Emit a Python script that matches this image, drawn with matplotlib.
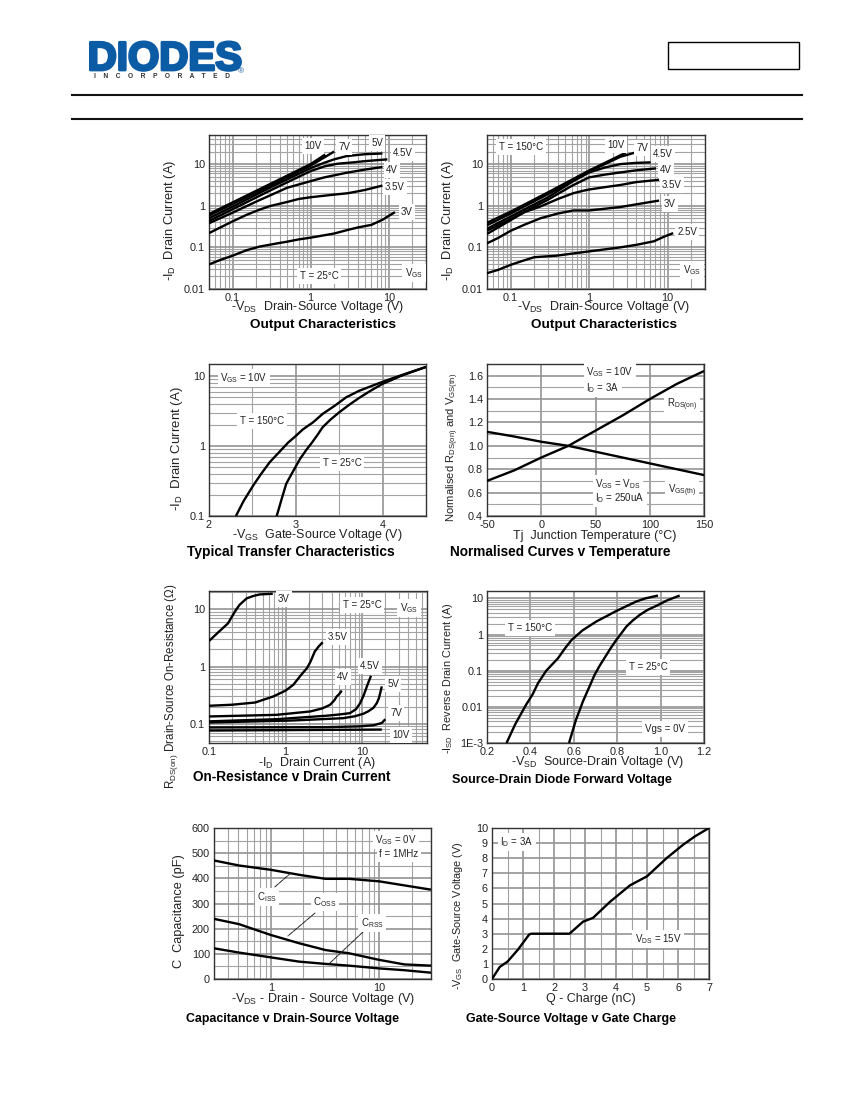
# -*- coding: utf-8 -*-
import matplotlib
matplotlib.use("Agg")
import matplotlib.pyplot as plt
from matplotlib.lines import Line2D
from matplotlib.patches import Rectangle
from matplotlib.ticker import FixedLocator, NullFormatter
import matplotlib.patheffects as pe

plt.rcParams['font.family'] = ['Liberation Sans', 'DejaVu Sans']
plt.rcParams['mathtext.fontset'] = 'custom'
plt.rcParams['mathtext.rm'] = 'Liberation Sans'
plt.rcParams['mathtext.default'] = 'regular'

W, H = 850, 1100
GRID = '#a3a3a3'
TXT = '#222222'

# output characteristics, T = 25C
o25_10v_x = [0.05, 0.1, 0.3, 1, 1.54]
o25_10v_y = [0.63, 1.2, 3.3, 10, 17]
o25_7v_x = [0.05, 0.1, 0.3, 1, 2]
o25_7v_y = [0.58, 1.1, 3.0, 9.2, 20]
o25_5v_x = [0.05, 0.1, 0.3, 1, 1.5, 2, 2.9, 5, 8.3]
o25_5v_y = [0.5, 0.95, 2.7, 8, 10.8, 13, 15.6, 17.3, 18]
o25_45v_x = [0.05, 0.1, 0.3, 1, 1.5, 2.2, 3.5, 5, 9.6]
o25_45v_y = [0.43, 0.82, 2.3, 6.8, 8.8, 10.2, 11, 11.8, 13]
o25_4v_x = [0.05, 0.1, 0.2, 0.5, 1, 1.5, 2.9, 5, 8.3]
o25_4v_y = [0.38, 0.68, 1.25, 2.7, 3.9, 4.8, 6.2, 7.4, 8.5]
o25_35v_x = [0.05, 0.1, 0.15, 0.22, 0.3, 0.5, 0.7, 1, 2, 3, 5, 8.3]
o25_35v_y = [0.22, 0.42, 0.6, 0.8, 0.98, 1.23, 1.45, 1.6, 1.85, 2, 2.4, 3.05]
o25_3v_x = [0.05, 0.07, 0.1, 0.15, 0.22, 0.35, 0.5, 0.7, 1, 2, 3, 4, 6, 8.3, 12]
o25_3v_y = [0.039, 0.05, 0.063, 0.085, 0.104, 0.122, 0.137, 0.155, 0.171, 0.215, 0.263, 0.3, 0.347, 0.46, 0.7]

# output characteristics, T = 150C
o150_10v_x = [0.05, 0.1, 0.3, 1, 2.93]
o150_10v_y = [0.39, 0.72, 2.1, 7, 18.8]
o150_7v_x = [0.05, 0.1, 0.3, 1, 2.5, 4.1]
o150_7v_y = [0.34, 0.65, 1.9, 6.6, 15, 19.5]
o150_45v_x = [0.05, 0.1, 0.3, 0.6, 1, 1.6, 2.5, 4, 6.1]
o150_45v_y = [0.28, 0.55, 1.6, 3.7, 6.3, 8.3, 10, 10.7, 11]
o150_4v_x = [0.05, 0.1, 0.3, 0.6, 1, 1.6, 2.5, 4, 7.1]
o150_4v_y = [0.25, 0.48, 1.4, 3, 4.8, 5.6, 6.3, 7.1, 7.9]
o150_35v_x = [0.05, 0.1, 0.15, 0.24, 0.4, 0.63, 0.85, 1, 1.6, 2.5, 4, 7.8]
o150_35v_y = [0.21, 0.45, 0.7, 0.96, 1.45, 2, 2.3, 2.45, 2.8, 3.15, 3.7, 4.2]
o150_3v_x = [0.05, 0.07, 0.1, 0.15, 0.24, 0.4, 0.63, 1, 2.5, 4, 7.8]
o150_3v_y = [0.125, 0.17, 0.25, 0.35, 0.5, 0.65, 0.77, 0.77, 0.93, 1.08, 1.33]
o150_25v_x = [0.05, 0.07, 0.1, 0.14, 0.2, 0.38, 1, 2.5, 4, 6.7, 9, 11.8]
o150_25v_y = [0.024, 0.029, 0.038, 0.047, 0.058, 0.063, 0.08, 0.1, 0.115, 0.14, 0.18, 0.22]

# transfer characteristics
tr150_x = [2.31, 2.4, 2.51, 2.6, 2.7, 2.8, 2.91, 3, 3.08, 3.2, 3.31, 3.45, 3.58, 3.73, 3.89, 4.05, 4.2, 4.35, 4.5]
tr150_y = [0.1, 0.165, 0.274, 0.4, 0.59, 0.8, 1.12, 1.4, 1.73, 2.2, 2.9, 3.8, 5, 6.2, 7.4, 8.8, 10.2, 11.8, 13.6]
tr25_x = [2.78, 2.84, 2.89, 2.97, 3.05, 3.12, 3.19, 3.25, 3.31, 3.4, 3.5, 3.62, 3.74, 3.87, 4, 4.1, 4.2, 4.35, 4.5]
tr25_y = [0.1, 0.18, 0.29, 0.44, 0.66, 0.88, 1.14, 1.45, 1.87, 2.4, 3.05, 3.95, 5, 6.3, 7.8, 8.8, 10, 11.7, 13.6]

# normalised curves
temp = [-50, -25, 0, 25, 50, 75, 100, 125, 150]
norm_rds = [0.70, 0.79, 0.90, 1.0, 1.13, 1.26, 1.40, 1.53, 1.64]
norm_vgs = [1.12, 1.08, 1.035, 1.0, 0.95, 0.90, 0.85, 0.80, 0.75]

# on-resistance
ron_3v_x = [0.1, 0.13, 0.177, 0.217, 0.25, 0.31, 0.38, 0.46, 0.68]
ron_3v_y = [2.8, 3.9, 5.7, 9.1, 12, 15.6, 17.2, 18.3, 18.8]
ron_35v_x = [0.1, 0.2, 0.4, 0.69, 1, 1.26, 1.6, 1.9, 2.1, 2.4, 2.7, 3.05]
ron_35v_y = [0.206, 0.215, 0.235, 0.3, 0.38, 0.48, 0.72, 0.94, 1.2, 1.83, 2.25, 2.67]
ron_4v_x = [0.1, 0.76, 2.1, 3, 3.8, 4.3, 4.65, 5, 5.4]
ron_4v_y = [0.134, 0.143, 0.164, 0.185, 0.214, 0.255, 0.3, 0.33, 0.38]
ron_45v_x = [0.1, 0.76, 3.4, 5, 6.9, 8.3, 9.4, 10.5, 11.5, 12.3, 13]
ron_45v_y = [0.11, 0.12, 0.138, 0.145, 0.153, 0.18, 0.23, 0.32, 0.45, 0.57, 0.69]
ron_5v_x = [0.1, 1.26, 5.6, 8, 10.4, 12, 14, 15.5, 16.5, 17.3, 18]
ron_5v_y = [0.105, 0.114, 0.125, 0.135, 0.15, 0.165, 0.19, 0.23, 0.28, 0.36, 0.45]
ron_7v_x = [0.1, 3.4, 9.4, 14, 18, 20]
ron_7v_y = [0.086, 0.087, 0.09, 0.094, 0.103, 0.12]
ron_10v_x = [0.1, 18]
ron_10v_y = [0.076, 0.079]

# diode forward voltage
sd150_x = [0.29, 0.33, 0.38, 0.41, 0.435, 0.473, 0.527, 0.56, 0.59, 0.64, 0.67, 0.704, 0.75, 0.79, 0.84, 0.888, 0.93, 0.988]
sd150_y = [0.001, 0.0033, 0.0114, 0.022, 0.045, 0.1, 0.22, 0.42, 0.71, 1.3, 1.7, 2.3, 3.2, 4.3, 6, 8.2, 10, 12]
sd25_x = [0.578, 0.61, 0.63, 0.642, 0.67, 0.696, 0.72, 0.75, 0.77, 0.796, 0.82, 0.842, 0.87, 0.904, 0.94, 0.98, 1.03, 1.088]
sd25_y = [0.001, 0.0044, 0.009, 0.0141, 0.034, 0.077, 0.14, 0.27, 0.42, 0.71, 1.1, 1.65, 2.4, 3.5, 4.8, 6.2, 8.8, 12]

# capacitance
cap_v = [0.3, 0.51, 1, 1.83, 3.2, 5.3, 10, 17, 30]
cap_iss = [471, 451, 434, 414, 398, 398, 388, 372, 355]
cap_oss = [239, 218, 175, 142, 115, 102, 76, 58, 53]
cap_rss = [122, 105, 86, 69, 60, 53, 42, 35, 25]

# gate charge
qg = [0, 0.25, 0.5, 0.84, 1.2, 1.27, 2.5, 2.94, 3.26, 3.8, 4.45, 4.77, 5, 5.63, 6.17, 6.55, 7]
vgs = [0, 0.8, 1.15, 1.95, 2.95, 3, 3, 3.8, 4.05, 5.1, 6.2, 6.55, 6.8, 8, 8.9, 9.45, 10]

LOG_SUBS = [2, 3, 4, 5, 6, 7, 8, 9]


def px(x, y):
    return x / W, 1 - y / H


def make_axes(fig, left, top, right, bottom):
    ax = fig.add_axes([left / W, 1 - bottom / H, (right - left) / W, (bottom - top) / H])
    for s in ax.spines.values():
        s.set_color('#333333')
        s.set_linewidth(1.0)
    ax.tick_params(which='both', length=0, labelsize=7.8, pad=3, labelcolor=TXT)
    ax.set_axisbelow(True)
    return ax


def log_minor(axis, decades):
    vals = [m * 10.0 ** d for d in decades for m in LOG_SUBS]
    axis.set_minor_locator(FixedLocator(vals))
    axis.set_minor_formatter(NullFormatter())


def grid(ax):
    ax.grid(True, which='major', color='#949494', linewidth=1.2)
    ax.grid(True, which='minor', color=GRID, linewidth=0.8)


def text(fig, x, y, s, size=7.5, weight='normal', rot=0, box=False):
    kw = {}
    if box:
        kw['bbox'] = dict(facecolor='white', edgecolor='none', pad=1.8)
    fig.text(*px(x, y), s, fontsize=size, fontweight=weight, rotation=rot,
             ha='center', va='center', color=TXT if weight == 'normal' else 'black', **kw)


def curves(ax, pairs):
    for x, y in pairs:
        ax.plot(x, y, color='black', linewidth=1.7, solid_capstyle='butt', zorder=3)


fig = plt.figure(figsize=(8.5, 11), dpi=100, facecolor='white')

# page header
fig.add_artist(Line2D([72 / W, 802 / W], [1 - 95 / H] * 2, color='#111111', linewidth=1.5))
fig.add_artist(Line2D([72 / W, 802 / W], [1 - 119 / H] * 2, color='#111111', linewidth=1.5))
fig.add_artist(Rectangle((668 / W, 1 - 69 / H), 131 / W, 27 / H, transform=fig.transFigure,
                         facecolor='white', edgecolor='black', linewidth=1.0))
logo = fig.text(*px(165, 59), 'DIODES', fontsize=29, fontweight='bold', color='#0b5ca5',
                ha='center', va='center')
logo.set_path_effects([pe.withStroke(linewidth=2.0, foreground='#0b5ca5')])
fig.text(*px(162, 76), 'I    N    C    O    R    P    O    R    A    T    E    D', fontsize=4.8,
         fontweight='bold', color='#333333', ha='center', va='center')
fig.text(*px(241, 72), '\u00ae', fontsize=6, color='#0b5ca5', ha='center', va='center')

# output characteristics 25C
ax = make_axes(fig, 209, 135, 426, 289)
ax.set_xscale('log')
ax.set_yscale('log')
curves(ax, [(o25_10v_x, o25_10v_y), (o25_7v_x, o25_7v_y), (o25_5v_x, o25_5v_y),
            (o25_45v_x, o25_45v_y), (o25_4v_x, o25_4v_y), (o25_35v_x, o25_35v_y),
            (o25_3v_x, o25_3v_y)])
ax.set_xlim(0.05, 30)
ax.set_ylim(0.01, 50)
ax.set_xticks([0.1, 1, 10], ['0.1', '1', '10'])
ax.set_yticks([0.01, 0.1, 1, 10], ['0.01', '0.1', '1', '10'])
log_minor(ax.xaxis, [-2, -1, 0, 1])
log_minor(ax.yaxis, [-2, -1, 0, 1])
grid(ax)

# output characteristics 150C
ax = make_axes(fig, 487, 135, 705, 289)
ax.set_xscale('log')
ax.set_yscale('log')
curves(ax, [(o150_10v_x, o150_10v_y), (o150_7v_x, o150_7v_y), (o150_45v_x, o150_45v_y),
            (o150_4v_x, o150_4v_y), (o150_35v_x, o150_35v_y), (o150_3v_x, o150_3v_y),
            (o150_25v_x, o150_25v_y)])
ax.set_xlim(0.05, 30)
ax.set_ylim(0.01, 50)
ax.set_xticks([0.1, 1, 10], ['0.1', '1', '10'])
ax.set_yticks([0.01, 0.1, 1, 10], ['0.01', '0.1', '1', '10'])
log_minor(ax.xaxis, [-2, -1, 0, 1])
log_minor(ax.yaxis, [-2, -1, 0, 1])
grid(ax)

# transfer
ax = make_axes(fig, 209, 364, 426, 516)
ax.set_yscale('log')
curves(ax, [(tr150_x, tr150_y), (tr25_x, tr25_y)])
ax.set_xlim(2, 4.5)
ax.set_ylim(0.1, 15)
ax.set_xticks([2, 3, 4], ['2', '3', '4'])
ax.xaxis.set_minor_locator(FixedLocator([2.5, 3.5]))
ax.set_yticks([0.1, 1, 10], ['0.1', '1', '10'])
log_minor(ax.yaxis, [-1, 0, 1])
grid(ax)

# normalised
ax = make_axes(fig, 487, 364, 704, 516)
curves(ax, [(temp, norm_rds), (temp, norm_vgs)])
ax.set_xlim(-50, 150)
ax.set_ylim(0.4, 1.7)
ax.set_xticks([-50, 0, 50, 100, 150], ['-50', '0', '50', '100', '150'])
ax.set_yticks([0.4, 0.6, 0.8, 1.0, 1.2, 1.4, 1.6], ['0.4', '0.6', '0.8', '1.0', '1.2', '1.4', '1.6'])
ax.yaxis.set_minor_locator(FixedLocator([0.5, 0.7, 0.9, 1.1, 1.3, 1.5]))
grid(ax)

# on-resistance
ax = make_axes(fig, 209, 591, 427, 743)
ax.set_xscale('log')
ax.set_yscale('log')
curves(ax, [(ron_3v_x, ron_3v_y), (ron_35v_x, ron_35v_y), (ron_4v_x, ron_4v_y),
            (ron_45v_x, ron_45v_y), (ron_5v_x, ron_5v_y), (ron_7v_x, ron_7v_y),
            (ron_10v_x, ron_10v_y)])
ax.set_xlim(0.1, 70)
ax.set_ylim(0.046, 21)
ax.set_xticks([0.1, 1, 10], ['0.1', '1', '10'])
ax.set_yticks([0.1, 1, 10], ['0.1', '1', '10'])
log_minor(ax.xaxis, [-1, 0, 1])
log_minor(ax.yaxis, [-2, -1, 0, 1])
grid(ax)

# diode
ax = make_axes(fig, 487, 591, 704, 743)
ax.set_yscale('log')
curves(ax, [(sd150_x, sd150_y), (sd25_x, sd25_y)])
ax.set_xlim(0.2, 1.2)
ax.set_ylim(0.001, 16)
ax.set_xticks([0.2, 0.4, 0.6, 0.8, 1.0, 1.2], ['0.2', '0.4', '0.6', '0.8', '1.0', '1.2'])
ax.set_yticks([0.001, 0.01, 0.1, 1, 10], ['1E-3', '0.01', '0.1', '1', '10'])
log_minor(ax.yaxis, [-3, -2, -1, 0, 1])
grid(ax)

# capacitance
ax = make_axes(fig, 214, 828, 431, 979)
ax.set_xscale('log')
curves(ax, [(cap_v, cap_iss), (cap_v, cap_oss), (cap_v, cap_rss)])
ax.set_xlim(0.3, 30)
ax.set_ylim(0, 600)
ax.set_xticks([1, 10], ['1', '10'])
log_minor(ax.xaxis, [-1, 0, 1])
ax.set_yticks([0, 100, 200, 300, 400, 500, 600], ['0', '100', '200', '300', '400', '500', '600'])
ax.yaxis.set_minor_locator(FixedLocator([50, 150, 250, 350, 450, 550]))
grid(ax)
# leader lines from the curve labels
leader = dict(arrowstyle='-', color='#222222', linewidth=0.7, linestyle=(0, (5, 1)),
              shrinkA=0, shrinkB=0)
ax.annotate('', xy=(1.53, 421), xytext=(-11.5, -10), textcoords='offset points', arrowprops=leader)
ax.annotate('', xy=(1.44, 171), xytext=(19.5, 16.5), textcoords='offset points', arrowprops=leader)
ax.annotate('', xy=(3.44, 60), xytext=(24.5, 23), textcoords='offset points', arrowprops=leader)

# gate charge
ax = make_axes(fig, 492, 828, 709, 979)
curves(ax, [(qg, vgs)])
ax.set_xlim(0, 7)
ax.set_ylim(0, 10)
ax.set_xticks(range(8), [str(i) for i in range(8)])
ax.xaxis.set_minor_locator(FixedLocator([0.5, 1.5, 2.5, 3.5, 4.5, 5.5, 6.5]))
ax.set_yticks(range(11), [str(i) for i in range(11)])
grid(ax)

# axis labels and titles, pixel positions from the page
text(fig, 170, 220, '-I$_{D}$  Drain Current (A)', 9.3, rot=90)
text(fig, 448, 220, '-I$_{D}$  Drain Current (A)', 9.3, rot=90)
text(fig, 317, 307, '-V$_{DS}$  Drain-Source Voltage (V)', 9)
text(fig, 603, 307, '-V$_{DS}$  Drain-Source Voltage (V)', 9)
text(fig, 323, 325, 'Output Characteristics', 9.7, 'bold')
text(fig, 604, 325, 'Output Characteristics', 9.7, 'bold')

text(fig, 177, 449, '-I$_{D}$  Drain Current (A)', 9.5, rot=90)
text(fig, 317, 535, '-V$_{GS}$  Gate-Source Voltage (V)', 9)
text(fig, 291, 552, 'Typical Transfer Characteristics', 9.9, 'bold')
text(fig, 453, 447, 'Normalised R$_{DS(on)}$ and V$_{GS(th)}$', 8, rot=90)
text(fig, 595, 536, 'Tj  Junction Temperature (\u00b0C)', 9)
text(fig, 560, 552, 'Normalised Curves v Temperature', 9.8, 'bold')

text(fig, 172, 686, 'R$_{DS(on)}$ Drain-Source On-Resistance (\u03a9)', 8.3, rot=90)
text(fig, 317, 763, '-I$_{D}$  Drain Current (A)', 9)
text(fig, 292, 777, 'On-Resistance v Drain Current', 9.8, 'bold')
text(fig, 448, 678, '-I$_{SD}$  Reverse Drain Current (A)', 7.8, rot=90)
text(fig, 597, 762, '-V$_{SD}$  Source-Drain Voltage (V)', 9)
text(fig, 562, 780, 'Source-Drain Diode Forward Voltage', 9.1, 'bold')

text(fig, 179, 911, 'C  Capacitance (pF)', 9.2, rot=90)
text(fig, 323, 999, '-V$_{DS}$ - Drain - Source Voltage (V)', 9)
text(fig, 292, 1019, 'Capacitance v Drain-Source Voltage', 8.9, 'bold')
text(fig, 458, 916, '-V$_{GS}$  Gate-Source Voltage (V)', 7.8, rot=90)
text(fig, 591, 999, 'Q - Charge (nC)', 9)
text(fig, 571, 1019, 'Gate-Source Voltage v Gate Charge', 9, 'bold')

# labels on the panels, white boxes hide the grid behind them
for x, y, s in [(313, 146, '10V'), (344, 147, '7V'), (377, 143, '5V'), (403, 153, '4.5V'),
                (392, 170, '4V'), (395, 187, '3.5V'), (407, 212, '3V'),
                (319, 276, 'T = 25\u00b0C'), (414, 273, 'V$_{GS}$'),
                (521, 147, 'T = 150\u00b0C'), (616, 145, '10V'), (642, 148, '7V'),
                (663, 154, '4.5V'), (666, 170, '4V'), (672, 185, '3.5V'), (670, 204, '3V'),
                (687, 232, '2.5V'), (692, 270, 'V$_{GS}$'),
                (244, 378, 'V$_{GS}$ = 10V'), (262, 421, 'T = 150\u00b0C'), (342, 463, 'T = 25\u00b0C'),
                (610, 372, 'V$_{GS}$ = 10V'), (603, 388, 'I$_{D}$ = 3A'), (682, 405, 'R$_{DS(on)}$'),
                (618, 484, 'V$_{GS}$ = V$_{DS}$'), (620, 498, 'I$_{D}$ = 250uA'), (682, 491, 'V$_{GS(th)}$'),
                (284, 599, '3V'), (362, 605, 'T = 25\u00b0C'), (409, 608, 'V$_{GS}$'),
                (338, 637, '3.5V'), (370, 666, '4.5V'), (343, 677, '4V'), (393, 684, '5V'),
                (396, 713, '7V'), (401, 735, '10V'),
                (530, 628, 'T = 150\u00b0C'), (648, 667, 'T = 25\u00b0C'), (665, 729, 'Vgs = 0V'),
                (396, 840, 'V$_{GS}$ = 0V'), (399, 854, 'f = 1MHz'), (267, 897, 'C$_{ISS}$'),
                (325, 902, 'C$_{OSS}$'), (372, 923, 'C$_{RSS}$'),
                (517, 842, 'I$_{D}$ = 3A'), (658, 939, 'V$_{DS}$ = 15V')]:
    text(fig, x, y, s, 7, box=True)

fig.savefig('out.png', dpi=100)
